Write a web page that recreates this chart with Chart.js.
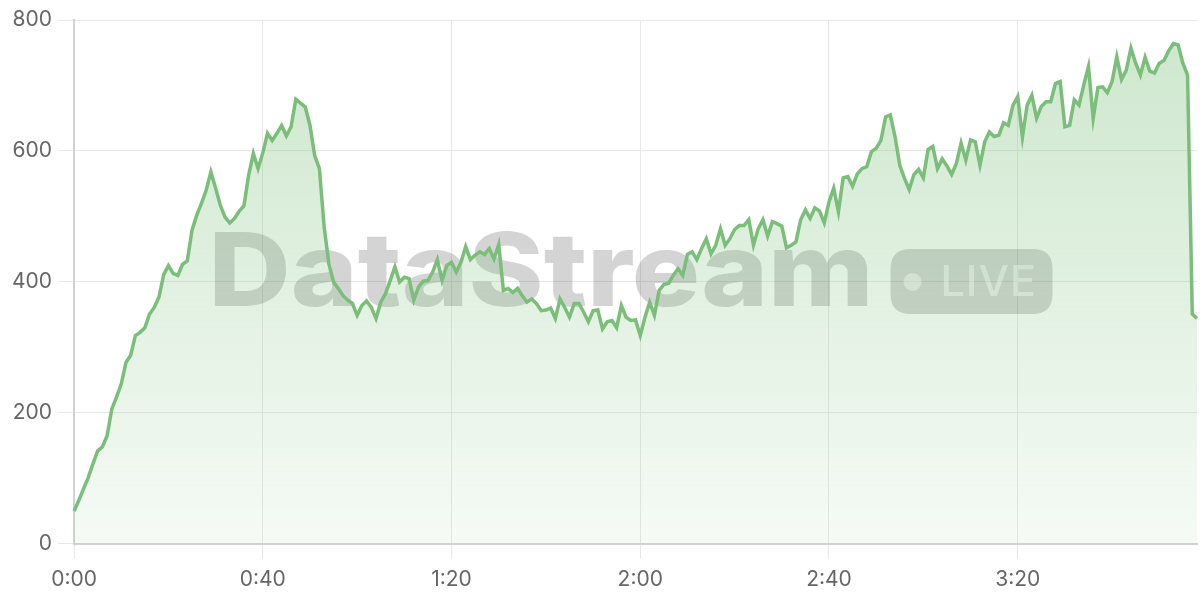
<!DOCTYPE html>
<html>
<head>
<meta charset="utf-8">
<script src="https://cdn.jsdelivr.net/npm/chart.js@4.4.1/dist/chart.umd.min.js"></script>
<style>
  html, body { margin: 0; padding: 0; background: #fff; }
  #wrap { width: 1200px; height: 600px; }
</style>
</head>
<body>
<div id="wrap"><canvas id="streamChart"></canvas></div>
<script>
// one sample per minute, 0:00 .. 3:58
const viewerCounts = [
    50, 66, 84, 101, 122, 142, 148, 165, 206, 224,
    244, 277, 288, 318, 323, 330, 351, 361, 377, 411,
    425, 413, 410, 427, 432, 479, 502, 520, 540, 568,
    543, 517, 499, 490, 497, 508, 516, 563, 596, 573,
    597, 627, 616, 627, 639, 623, 637, 679, 673, 667,
    639, 593, 573, 484, 428, 400, 390, 379, 372, 367,
    349, 364, 371, 361, 344, 369, 382, 402, 423, 400,
    407, 405, 372, 392, 401, 402, 415, 434, 402, 425,
    430, 415, 430, 454, 434, 441, 446, 442, 451, 435,
    457, 387, 390, 384, 390, 379, 369, 374, 367, 356,
    357, 360, 344, 374, 361, 346, 367, 367, 354, 339,
    356, 357, 328, 339, 341, 330, 364, 346, 341, 342,
    318, 346, 369, 349, 387, 396, 398, 410, 420, 410,
    442, 446, 434, 451, 466, 443, 456, 481, 456, 466,
    480, 486, 486, 495, 456, 481, 495, 470, 492, 489,
    485, 452, 456, 461, 495, 510, 497, 513, 508, 490,
    522, 543, 507, 559, 561, 546, 565, 573, 576, 599,
    604, 616, 652, 655, 622, 578, 558, 541, 564, 572,
    559, 602, 607, 573, 588, 577, 564, 581, 612, 586,
    617, 614, 578, 614, 629, 622, 624, 643, 639, 670,
    683, 621, 670, 685, 650, 668, 675, 675, 703, 706,
    637, 639, 678, 670, 701, 729, 650, 697, 698, 689,
    706, 744, 709, 723, 757, 734, 716, 743, 722, 719,
    734, 738, 753, 764, 762, 734, 716, 351, 344
];

const minuteLabels = viewerCounts.map((v, i) => {
    const h = Math.floor(i / 60);
    const m = i % 60;
    return h + ':' + String(m).padStart(2, '0');
});

const labelEvery = 40;
const yTicks = [0, 200, 400, 600, 800];

const watermarkText = 'DataStream';
const badgeText = 'LIVE';

const lineGreen = 'rgb(122, 190, 122)';

function roundRect(ctx, x, y, w, h, r) {
    ctx.beginPath();
    ctx.moveTo(x + r, y);
    ctx.lineTo(x + w - r, y);
    ctx.quadraticCurveTo(x + w, y, x + w, y + r);
    ctx.lineTo(x + w, y + h - r);
    ctx.quadraticCurveTo(x + w, y + h, x + w - r, y + h);
    ctx.lineTo(x + r, y + h);
    ctx.quadraticCurveTo(x, y + h, x, y + h - r);
    ctx.lineTo(x, y + r);
    ctx.quadraticCurveTo(x, y, x + r, y);
    ctx.closePath();
}

const watermark = {
    id: 'watermark',
    beforeDatasetsDraw(chart) {
        const { ctx, chartArea } = chart;
        const cx = (chartArea.left + chartArea.right) / 2;
        const cy = (chartArea.top + chartArea.bottom) / 2;
        const textLeft = cx - 427;

        ctx.save();
        // big word, stretched to the reference width
        ctx.font = '800 102px Inter';
        ctx.textBaseline = 'alphabetic';
        ctx.textAlign = 'left';
        const natural = ctx.measureText(watermarkText).width;
        const sx = 665 / natural;
        ctx.fillStyle = 'rgba(0, 0, 0, 0.17)';
        ctx.save();
        ctx.translate(textLeft, cy + 24);
        ctx.scale(sx, 1);
        ctx.fillText(watermarkText, 0, 0);
        ctx.restore();

        // LIVE badge
        const bx = textLeft + 682, by = cy - 33, bw = 162, bh = 65;
        roundRect(ctx, bx, by, bw, bh, 20);
        ctx.fillStyle = 'rgba(0, 0, 0, 0.17)';
        ctx.fill();

        ctx.beginPath();
        ctx.arc(bx + 22, cy, 9, 0, Math.PI * 2);
        ctx.fillStyle = 'rgba(255, 255, 255, 0.55)';
        ctx.fill();

        ctx.letterSpacing = '1px';
        ctx.font = '500 43px Inter';
        ctx.fillStyle = 'rgba(255, 255, 255, 0.55)';
        ctx.textBaseline = 'middle';
        ctx.fillText(badgeText, bx + 50, cy + 1);
        ctx.restore();
    }
};

const ctx = document.getElementById('streamChart').getContext('2d');

new Chart(ctx, {
    type: 'line',
    data: {
        labels: minuteLabels,
        datasets: [{
            data: viewerCounts,
            borderColor: lineGreen,
            borderWidth: 3.5,
            pointRadius: 0,
            tension: 0,
            fill: 'origin',
            backgroundColor: function(context) {
                const area = context.chart.chartArea;
                if (!area) return 'rgba(122, 190, 122, 0.2)';
                const g = context.chart.ctx.createLinearGradient(0, area.top, 0, area.bottom);
                g.addColorStop(0, 'rgba(122, 190, 122, 0.38)');
                g.addColorStop(1, 'rgba(122, 190, 122, 0.07)');
                return g;
            }
        }]
    },
    options: {
        responsive: true,
        maintainAspectRatio: false,
        animation: false,
        layout: { padding: { top: 20, right: 3, left: 6, bottom: 0 } },
        plugins: {
            legend: { display: false },
            tooltip: { enabled: false }
        },
        scales: {
            x: {
                border: { color: '#d2d2d2', width: 2 },
                grid: {
                    color: '#e8e8e8',
                    tickLength: 15
                },
                ticks: {
                    autoSkip: false,
                    maxRotation: 0,
                    color: '#666',
                    padding: 8,
                    font: { family: 'Inter', size: 21 },
                    callback: function(value, index) {
                        return index % labelEvery === 0 ? minuteLabels[index] : null;
                    }
                }
            },
            y: {
                min: yTicks[0],
                max: yTicks[yTicks.length - 1],
                border: { color: '#d2d2d2', width: 2 },
                grid: {
                    color: '#e8e8e8',
                    tickLength: 16
                },
                ticks: {
                    stepSize: 200,
                    color: '#666',
                    padding: 6,
                    font: { family: 'Inter', size: 21 }
                }
            }
        }
    },
    plugins: [watermark]
});
</script>
</body>
</html>
